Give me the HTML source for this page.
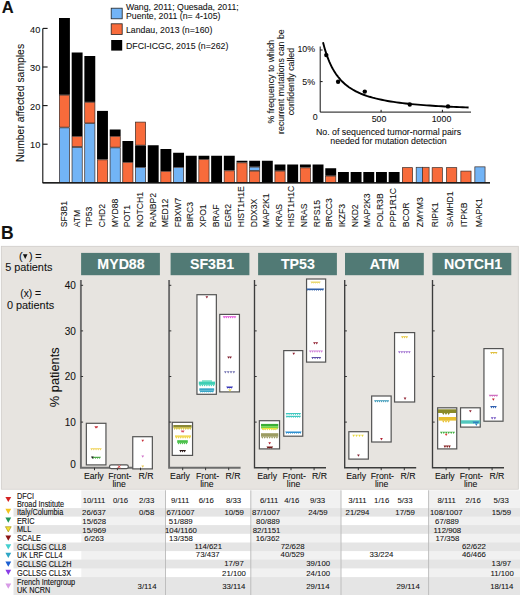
<!DOCTYPE html>
<html><head><meta charset="utf-8"><style>
html,body{margin:0;padding:0;background:#fff;}
svg{display:block;}
text{font-family:"Liberation Sans",sans-serif;}
</style></head><body>
<svg width="520" height="595" viewBox="0 0 520 595" font-family="Liberation Sans, sans-serif" fill="#111">
<text x="1.8" y="12.8" font-size="16.5" font-weight="bold" stroke="#111" stroke-width="0.08">A</text>
<rect x="111.2" y="8.2" width="11" height="10.6" fill="#72b4f6" stroke="#222" stroke-width="0.8"/>
<rect x="111.2" y="23.8" width="11" height="10.6" fill="#f86b3b" stroke="#222" stroke-width="0.8"/>
<rect x="111.2" y="40" width="11" height="10.6" fill="#000"/>
<g font-size="8.75">
<text x="126" y="9.6" stroke="#111" stroke-width="0.08">Wang, 2011; Quesada, 2011;</text>
<text x="126" y="19.2" stroke="#111" stroke-width="0.08">Puente, 2011 (n= 4-105)</text>
<text x="126" y="32.6" stroke="#111" stroke-width="0.08">Landau, 2013 (n=160)</text>
<text x="126" y="49" stroke="#111" stroke-width="0.08">DFCI-ICGC, 2015 (n=262)</text>
</g>
<g stroke="#111" stroke-width="1.1" fill="none">
<path d="M42.8 28.4 V182.8 H490"/>
<path d="M42.8 28.4 H47.6"/>
<path d="M42.8 67.0 H47.6"/>
<path d="M42.8 105.6 H47.6"/>
<path d="M42.8 144.2 H47.6"/>
</g>
<g font-size="9.2" text-anchor="end">
<text x="40.3" y="32.5" stroke="#111" stroke-width="0.08">40</text>
<text x="40.3" y="71.1" stroke="#111" stroke-width="0.08">30</text>
<text x="40.3" y="109.7" stroke="#111" stroke-width="0.08">20</text>
<text x="40.3" y="148.3" stroke="#111" stroke-width="0.08">10</text>
</g>
<text transform="translate(23.8 103) rotate(-90)" font-size="10.4" text-anchor="middle" stroke="#111" stroke-width="0.08">Number affected samples</text>
<rect x="59.0" y="18" width="10.9" height="76.80" fill="#000"/>
<rect x="59.35" y="95.14999999999999" width="10.200000000000001" height="32.00" fill="#f86b3b" stroke="#3a2a25" stroke-width="0.7"/>
<rect x="59.35" y="127.85" width="10.200000000000001" height="54.60" fill="#72b4f6" stroke="#3a2a25" stroke-width="0.7"/>
<text transform="translate(67.15 227.3) rotate(-90)" font-size="8.6" stroke="#111" stroke-width="0.08">SF3B1</text>
<rect x="71.68" y="52.5" width="10.9" height="83.70" fill="#000"/>
<rect x="72.03" y="136.54999999999998" width="10.200000000000001" height="10.10" fill="#f86b3b" stroke="#3a2a25" stroke-width="0.7"/>
<rect x="72.03" y="147.35" width="10.200000000000001" height="35.10" fill="#72b4f6" stroke="#3a2a25" stroke-width="0.7"/>
<text transform="translate(79.78 227.3) rotate(-90)" font-size="8.6" stroke="#111" stroke-width="0.08">ATM</text>
<rect x="84.36" y="56" width="10.9" height="45.90" fill="#000"/>
<rect x="84.71" y="102.25" width="10.200000000000001" height="20.70" fill="#f86b3b" stroke="#3a2a25" stroke-width="0.7"/>
<rect x="84.71" y="123.64999999999999" width="10.200000000000001" height="58.80" fill="#72b4f6" stroke="#3a2a25" stroke-width="0.7"/>
<text transform="translate(92.41 227.3) rotate(-90)" font-size="8.6" stroke="#111" stroke-width="0.08">TP53</text>
<rect x="97.03999999999999" y="110.9" width="10.9" height="48.60" fill="#000"/>
<rect x="97.38999999999999" y="159.85" width="10.200000000000001" height="22.60" fill="#f86b3b" stroke="#3a2a25" stroke-width="0.7"/>
<text transform="translate(105.04 227.3) rotate(-90)" font-size="8.6" stroke="#111" stroke-width="0.08">CHD2</text>
<rect x="109.72" y="129.5" width="10.9" height="6.50" fill="#000"/>
<rect x="110.07" y="136.35" width="10.200000000000001" height="10.80" fill="#f86b3b" stroke="#3a2a25" stroke-width="0.7"/>
<rect x="110.07" y="147.85" width="10.200000000000001" height="34.60" fill="#72b4f6" stroke="#3a2a25" stroke-width="0.7"/>
<text transform="translate(117.67 227.3) rotate(-90)" font-size="8.6" stroke="#111" stroke-width="0.08">MYD88</text>
<rect x="122.4" y="141" width="10.9" height="21.00" fill="#000"/>
<rect x="122.75" y="162.35" width="10.200000000000001" height="20.10" fill="#f86b3b" stroke="#3a2a25" stroke-width="0.7"/>
<text transform="translate(130.30 227.3) rotate(-90)" font-size="8.6" stroke="#111" stroke-width="0.08">POT1</text>
<rect x="135.42999999999998" y="122.1" width="10.200000000000001" height="23.05" fill="#f86b3b" stroke="#3a2a25" stroke-width="0.7"/>
<rect x="135.07999999999998" y="145.5" width="10.9" height="21.50" fill="#000"/>
<rect x="135.42999999999998" y="167.35" width="10.200000000000001" height="15.10" fill="#72b4f6" stroke="#3a2a25" stroke-width="0.7"/>
<text transform="translate(142.93 227.3) rotate(-90)" font-size="8.6" stroke="#111" stroke-width="0.08">NOTCH1</text>
<rect x="147.76" y="145.25" width="10.9" height="37.55" fill="#000"/>
<text transform="translate(155.56 227.3) rotate(-90)" font-size="8.6" stroke="#111" stroke-width="0.08">RANBP2</text>
<rect x="160.44" y="149" width="10.9" height="22.00" fill="#000"/>
<rect x="160.79" y="171.35" width="10.200000000000001" height="11.10" fill="#f86b3b" stroke="#3a2a25" stroke-width="0.7"/>
<text transform="translate(168.19 227.3) rotate(-90)" font-size="8.6" stroke="#111" stroke-width="0.08">MED12</text>
<rect x="173.12" y="152.75" width="10.9" height="14.25" fill="#000"/>
<rect x="173.47" y="167.35" width="10.200000000000001" height="15.10" fill="#72b4f6" stroke="#3a2a25" stroke-width="0.7"/>
<text transform="translate(180.82 227.3) rotate(-90)" font-size="8.6" stroke="#111" stroke-width="0.08">FBXW7</text>
<rect x="185.8" y="155.75" width="10.9" height="27.05" fill="#000"/>
<text transform="translate(193.45 227.3) rotate(-90)" font-size="8.6" stroke="#111" stroke-width="0.08">BIRC3</text>
<rect x="198.48" y="155.75" width="10.9" height="3.55" fill="#000"/>
<rect x="198.82999999999998" y="159.65" width="10.200000000000001" height="22.80" fill="#f86b3b" stroke="#3a2a25" stroke-width="0.7"/>
<text transform="translate(206.08 227.3) rotate(-90)" font-size="8.6" stroke="#111" stroke-width="0.08">XPO1</text>
<rect x="211.16" y="155.75" width="10.9" height="27.05" fill="#000"/>
<text transform="translate(218.71 227.3) rotate(-90)" font-size="8.6" stroke="#111" stroke-width="0.08">BRAF</text>
<rect x="223.84" y="155.75" width="10.9" height="14.75" fill="#000"/>
<rect x="224.19" y="170.85" width="10.200000000000001" height="11.60" fill="#f86b3b" stroke="#3a2a25" stroke-width="0.7"/>
<text transform="translate(231.34 227.3) rotate(-90)" font-size="8.6" stroke="#111" stroke-width="0.08">EGR2</text>
<rect x="236.51999999999998" y="160.75" width="10.9" height="1.75" fill="#000"/>
<rect x="236.86999999999998" y="162.85" width="10.200000000000001" height="19.60" fill="#f86b3b" stroke="#3a2a25" stroke-width="0.7"/>
<text transform="translate(243.97 227.3) rotate(-90)" font-size="8.6" stroke="#111" stroke-width="0.08">HIST1H1E</text>
<rect x="249.2" y="160.75" width="10.9" height="6.00" fill="#000"/>
<rect x="249.54999999999998" y="167.1" width="10.200000000000001" height="3.30" fill="#72b4f6" stroke="#3a2a25" stroke-width="0.7"/>
<rect x="249.54999999999998" y="171.1" width="10.200000000000001" height="11.35" fill="#f86b3b" stroke="#3a2a25" stroke-width="0.7"/>
<text transform="translate(256.60 227.3) rotate(-90)" font-size="8.6" stroke="#111" stroke-width="0.08">DDX3X</text>
<rect x="261.88" y="160.75" width="10.9" height="22.05" fill="#000"/>
<text transform="translate(269.23 227.3) rotate(-90)" font-size="8.6" stroke="#111" stroke-width="0.08">MAP2K1</text>
<rect x="274.56" y="164.5" width="10.9" height="6.25" fill="#000"/>
<rect x="274.91" y="171.1" width="10.200000000000001" height="11.35" fill="#f86b3b" stroke="#3a2a25" stroke-width="0.7"/>
<text transform="translate(281.86 227.3) rotate(-90)" font-size="8.6" stroke="#111" stroke-width="0.08">KRAS</text>
<rect x="287.24" y="164.5" width="10.9" height="18.30" fill="#000"/>
<text transform="translate(294.49 227.3) rotate(-90)" font-size="8.6" stroke="#111" stroke-width="0.08">HIST1H1C</text>
<rect x="299.91999999999996" y="164.5" width="10.9" height="3.00" fill="#000"/>
<rect x="300.27" y="167.85" width="10.200000000000001" height="14.60" fill="#f86b3b" stroke="#3a2a25" stroke-width="0.7"/>
<text transform="translate(307.12 227.3) rotate(-90)" font-size="8.6" stroke="#111" stroke-width="0.08">NRAS</text>
<rect x="312.6" y="164.5" width="10.9" height="18.30" fill="#000"/>
<text transform="translate(319.75 227.3) rotate(-90)" font-size="8.6" stroke="#111" stroke-width="0.08">RPS15</text>
<rect x="325.28" y="168.25" width="10.9" height="7.50" fill="#000"/>
<rect x="325.63" y="176.1" width="10.200000000000001" height="6.35" fill="#f86b3b" stroke="#3a2a25" stroke-width="0.7"/>
<text transform="translate(332.38 227.3) rotate(-90)" font-size="8.6" stroke="#111" stroke-width="0.08">BRCC3</text>
<rect x="337.96" y="172" width="10.9" height="10.80" fill="#000"/>
<text transform="translate(345.01 227.3) rotate(-90)" font-size="8.6" stroke="#111" stroke-width="0.08">IKZF3</text>
<rect x="350.64" y="172" width="10.9" height="10.80" fill="#000"/>
<text transform="translate(357.64 227.3) rotate(-90)" font-size="8.6" stroke="#111" stroke-width="0.08">NKD2</text>
<rect x="363.32" y="172" width="10.9" height="10.80" fill="#000"/>
<text transform="translate(370.27 227.3) rotate(-90)" font-size="8.6" stroke="#111" stroke-width="0.08">MAP2K3</text>
<rect x="376.0" y="172" width="10.9" height="10.80" fill="#000"/>
<text transform="translate(382.90 227.3) rotate(-90)" font-size="8.6" stroke="#111" stroke-width="0.08">POLR3B</text>
<rect x="388.68" y="172" width="10.9" height="10.80" fill="#000"/>
<text transform="translate(395.53 227.3) rotate(-90)" font-size="8.6" stroke="#111" stroke-width="0.08">PPP1R1C</text>
<rect x="402.35" y="167.65" width="10.200000000000001" height="14.80" fill="#f86b3b" stroke="#3a2a25" stroke-width="0.7"/>
<text transform="translate(409.00 227.3) rotate(-90)" font-size="8.6" stroke="#111" stroke-width="0.08">BCOR</text>
<rect x="416.2" y="167.3" width="6.3" height="15.50" fill="#72b4f6" stroke="#333" stroke-width="0.7"/>
<rect x="422.5" y="167.3" width="6.6" height="15.50" fill="#f86b3b" stroke="#333" stroke-width="0.7"/>
<text transform="translate(423.00 227.3) rotate(-90)" font-size="8.6" stroke="#111" stroke-width="0.08">ZMYM3</text>
<rect x="432.15000000000003" y="167.65" width="10.200000000000001" height="14.80" fill="#f86b3b" stroke="#3a2a25" stroke-width="0.7"/>
<text transform="translate(437.80 227.3) rotate(-90)" font-size="8.6" stroke="#111" stroke-width="0.08">RIPK1</text>
<rect x="446.55" y="167.65" width="10.200000000000001" height="14.80" fill="#f86b3b" stroke="#3a2a25" stroke-width="0.7"/>
<text transform="translate(452.80 227.3) rotate(-90)" font-size="8.6" stroke="#111" stroke-width="0.08">SAMHD1</text>
<rect x="460.85" y="171.1" width="10.200000000000001" height="11.35" fill="#f86b3b" stroke="#3a2a25" stroke-width="0.7"/>
<text transform="translate(467.15 227.3) rotate(-90)" font-size="8.6" stroke="#111" stroke-width="0.08">ITPKB</text>
<rect x="474.85" y="166.85" width="10.200000000000001" height="15.60" fill="#72b4f6" stroke="#3a2a25" stroke-width="0.7"/>
<text transform="translate(481.50 227.3) rotate(-90)" font-size="8.6" stroke="#111" stroke-width="0.08">MAPK1</text>
<path d="M42.8 182.8 H490" stroke="#111" stroke-width="1.2"/>
<g stroke="#111" stroke-width="1" fill="none">
<path d="M320.2 46.5 V112.1 H471"/>
<path d="M320.2 50 H322.6 M320.2 81.6 H322.6 M381.1 112.1 V109.8 M442.4 112.1 V109.8"/>
</g>
<polyline points="323.0,42.15 323.8,45.28 324.6,48.18 325.4,50.87 326.2,53.37 327.0,55.71 327.8,57.89 328.6,59.94 329.4,61.86 330.2,63.66 331.0,65.35 331.8,66.95 332.6,68.45 333.4,69.87 334.2,71.22 335.0,72.49 335.8,73.70 336.6,74.85 337.4,75.94 338.2,76.98 339.0,77.96 339.8,78.90 340.6,79.80 341.4,80.66 342.2,81.48 343.0,82.26 343.8,83.01 344.6,83.73 345.4,84.42 346.2,85.08 347.0,85.71 347.8,86.32 348.6,86.91 349.4,87.47 350.2,88.01 351.0,88.53 351.8,89.03 352.6,89.52 353.4,89.99 354.2,90.44 355.0,90.87 355.8,91.29 356.6,91.70 357.4,92.09 358.2,92.47 359.0,92.84 359.8,93.20 360.6,93.54 363.6,94.74 366.6,95.82 369.6,96.78 372.6,97.65 375.6,98.44 378.6,99.15 381.6,99.80 384.6,100.40 387.6,100.95 390.6,101.45 393.6,101.92 396.6,102.35 399.6,102.75 402.6,103.12 405.6,103.47 408.6,103.79 411.6,104.09 414.6,104.38 417.6,104.64 420.6,104.89 423.6,105.13 426.6,105.35 429.6,105.56 432.6,105.75 435.6,105.94 438.6,106.12 441.6,106.29 444.6,106.45 447.6,106.60 450.6,106.74 453.6,106.88 456.6,107.01 459.6,107.14 462.6,107.26 465.6,107.37 468.6,107.48" fill="none" stroke="#000" stroke-width="1.9"/>
<circle cx="326.3" cy="55.1" r="2.2" fill="#000"/>
<circle cx="338.1" cy="81.7" r="2.2" fill="#000"/>
<circle cx="364.8" cy="91.6" r="2.2" fill="#000"/>
<circle cx="409.8" cy="104.5" r="2.2" fill="#000"/>
<circle cx="448" cy="106.4" r="2.2" fill="#000"/>
<g font-size="8.8">
<text x="315" y="52.3" text-anchor="end" stroke="#111" stroke-width="0.08">10%</text>
<text x="315" y="84.6" text-anchor="end" stroke="#111" stroke-width="0.08">5%</text>
<text x="317.6" y="120" text-anchor="end" stroke="#111" stroke-width="0.08">0</text>
<text x="379" y="121.7" text-anchor="middle" stroke="#111" stroke-width="0.08">500</text>
<text x="441.5" y="121.7" text-anchor="middle" stroke="#111" stroke-width="0.08">1000</text>
<text x="388.5" y="134.5" text-anchor="middle" stroke="#111" stroke-width="0.08">No. of sequenced tumor-normal pairs</text>
<text x="388.5" y="144" text-anchor="middle" stroke="#111" stroke-width="0.08">needed for mutation detection</text>
<text transform="translate(274.2 81.6) rotate(-90)" text-anchor="middle" stroke="#111" stroke-width="0.08">% frequency to which</text>
<text transform="translate(284 81.6) rotate(-90)" text-anchor="middle" stroke="#111" stroke-width="0.08">recurrent mutations can be</text>
<text transform="translate(293.8 81.6) rotate(-90)" text-anchor="middle" stroke="#111" stroke-width="0.08">confidently called</text>
</g>
<text x="1.0" y="238.6" font-size="17.5" font-weight="bold" stroke="#111" stroke-width="0.08">B</text>
<rect x="1.3" y="246.3" width="517" height="243" fill="#e7e4e0" stroke="#cfccc8" stroke-width="0.8"/>
<g font-size="10.3" text-anchor="middle" fill="#111">
<text x="19.1" y="259.6" text-anchor="start" font-size="10.8" stroke="#111" stroke-width="0.08">(</text><path d="M22.9 254.2 H27.5 L25.2 259.1 Z" fill="#111"/><text x="28.9" y="259.6" text-anchor="start" font-size="10.8" stroke="#111" stroke-width="0.08">)</text><text x="35.2" y="259.6" text-anchor="start" font-size="10.8" stroke="#111" stroke-width="0.08">=</text>
<text x="28.8" y="271.3" font-size="10.9" stroke="#111" stroke-width="0.08">5 patients</text>
<text x="30.7" y="297" stroke="#111" stroke-width="0.08">(x) =</text>
<text x="30.5" y="309.4" font-size="10.9" stroke="#111" stroke-width="0.08">0 patients</text>
</g>
<text transform="translate(58.7 377.3) rotate(-90)" font-size="12.8" text-anchor="middle" stroke="#111" stroke-width="0.08">% patients</text>
<g font-size="10" text-anchor="end">
<text x="75.8" y="288.9" stroke="#111" stroke-width="0.08">40</text>
<text x="75.8" y="334.5" stroke="#111" stroke-width="0.08">30</text>
<text x="75.8" y="380.1" stroke="#111" stroke-width="0.08">20</text>
<text x="75.8" y="425.7" stroke="#111" stroke-width="0.08">10</text>
<text x="75.8" y="468" stroke="#111" stroke-width="0.08">0</text>
</g>
<rect x="81.1" y="252.9" width="78.8" height="22.3" fill="#517a75"/>
<text x="121.0" y="269.0" font-size="14.2" font-weight="bold" fill="#fff" text-anchor="middle" stroke="#fff" stroke-width="0.08">MYD88</text>
<path d="M80.9 280 V467.7 H152.4" stroke="#6c6c6c" stroke-width="1.9" fill="none"/>
<path d="M80.9 285.3 H83.10000000000001" stroke="#333" stroke-width="1"/>
<path d="M80.9 330.9 H83.10000000000001" stroke="#333" stroke-width="1"/>
<path d="M80.9 376.5 H83.10000000000001" stroke="#333" stroke-width="1"/>
<path d="M80.9 422.1 H83.10000000000001" stroke="#333" stroke-width="1"/>
<rect x="170.6" y="252.9" width="78.8" height="22.3" fill="#517a75"/>
<text x="212.0" y="269.0" font-size="14.2" font-weight="bold" fill="#fff" text-anchor="middle" stroke="#fff" stroke-width="0.08">SF3B1</text>
<path d="M169.1 280 V467.7 H240.6" stroke="#6c6c6c" stroke-width="1.9" fill="none"/>
<path d="M169.1 285.3 H171.29999999999998" stroke="#333" stroke-width="1"/>
<path d="M169.1 330.9 H171.29999999999998" stroke="#333" stroke-width="1"/>
<path d="M169.1 376.5 H171.29999999999998" stroke="#333" stroke-width="1"/>
<path d="M169.1 422.1 H171.29999999999998" stroke="#333" stroke-width="1"/>
<rect x="258.1" y="252.9" width="78.8" height="22.3" fill="#517a75"/>
<text x="297.9" y="269.0" font-size="14.2" font-weight="bold" fill="#fff" text-anchor="middle" stroke="#fff" stroke-width="0.08">TP53</text>
<path d="M254.5 280 V467.7 H326.0" stroke="#3c3c3c" stroke-width="1.35" fill="none"/>
<path d="M254.5 285.3 H256.7" stroke="#333" stroke-width="1"/>
<path d="M254.5 330.9 H256.7" stroke="#333" stroke-width="1"/>
<path d="M254.5 376.5 H256.7" stroke="#333" stroke-width="1"/>
<path d="M254.5 422.1 H256.7" stroke="#333" stroke-width="1"/>
<rect x="345.0" y="252.9" width="78.8" height="22.3" fill="#517a75"/>
<text x="384.6" y="269.0" font-size="14.2" font-weight="bold" fill="#fff" text-anchor="middle" stroke="#fff" stroke-width="0.08">ATM</text>
<path d="M344.7 280 V467.7 H416.2" stroke="#3c3c3c" stroke-width="1.35" fill="none"/>
<path d="M344.7 285.3 H346.9" stroke="#333" stroke-width="1"/>
<path d="M344.7 330.9 H346.9" stroke="#333" stroke-width="1"/>
<path d="M344.7 376.5 H346.9" stroke="#333" stroke-width="1"/>
<path d="M344.7 422.1 H346.9" stroke="#333" stroke-width="1"/>
<rect x="432.5" y="252.9" width="78.8" height="22.3" fill="#517a75"/>
<text x="473.1" y="269.0" font-size="14.2" font-weight="bold" fill="#fff" text-anchor="middle" stroke="#fff" stroke-width="0.08">NOTCH1</text>
<path d="M432.5 280 V467.7 H504.0" stroke="#3c3c3c" stroke-width="1.35" fill="none"/>
<path d="M432.5 285.3 H434.7" stroke="#333" stroke-width="1"/>
<path d="M432.5 330.9 H434.7" stroke="#333" stroke-width="1"/>
<path d="M432.5 376.5 H434.7" stroke="#333" stroke-width="1"/>
<path d="M432.5 422.1 H434.7" stroke="#333" stroke-width="1"/>
<rect x="86.35" y="423.30" width="19.60" height="41.60" rx="0" fill="#fff" stroke="#535353" stroke-width="1.2"/>
<path d="M94.5 467.7 V470.2" stroke="#333" stroke-width="1"/>
<rect x="109.45" y="464.90" width="18.90" height="3.70" rx="1.8" fill="#fff" stroke="#535353" stroke-width="1.2"/>
<path d="M117.4 467.7 V470.2" stroke="#333" stroke-width="1"/>
<rect x="132.75" y="436.70" width="19.60" height="32.20" rx="0" fill="#fff" stroke="#535353" stroke-width="1.2"/>
<path d="M140.5 467.7 V470.2" stroke="#333" stroke-width="1"/>
<g font-size="8.7" text-anchor="middle" fill="#111">
<text x="93.8" y="479.0" stroke="#111" stroke-width="0.08">Early</text>
<text x="119.9" y="479.0" stroke="#111" stroke-width="0.08">Front-</text>
<text x="119.2" y="486.8" stroke="#111" stroke-width="0.08">line</text>
<text x="146.0" y="479.0" stroke="#111" stroke-width="0.08">R/R</text>
</g>
<rect x="172.25" y="422.30" width="20.30" height="33.10" rx="0" fill="#fff" stroke="#535353" stroke-width="1.2"/>
<path d="M182.7 467.7 V470.2" stroke="#333" stroke-width="1"/>
<rect x="196.95" y="294.70" width="19.40" height="99.60" rx="0" fill="#fff" stroke="#535353" stroke-width="1.2"/>
<path d="M205.6 467.7 V470.2" stroke="#333" stroke-width="1"/>
<rect x="219.75" y="314.40" width="19.70" height="77.50" rx="0" fill="#fff" stroke="#535353" stroke-width="1.2"/>
<path d="M228.7 467.7 V470.2" stroke="#333" stroke-width="1"/>
<g font-size="8.7" text-anchor="middle" fill="#111">
<text x="180.0" y="479.0" stroke="#111" stroke-width="0.08">Early</text>
<text x="207.6" y="479.0" stroke="#111" stroke-width="0.08">Front-</text>
<text x="206.9" y="486.8" stroke="#111" stroke-width="0.08">line</text>
<text x="233.0" y="479.0" stroke="#111" stroke-width="0.08">R/R</text>
</g>
<rect x="259.35" y="420.70" width="20.20" height="28.20" rx="0" fill="#fff" stroke="#535353" stroke-width="1.2"/>
<path d="M268.1 467.7 V470.2" stroke="#333" stroke-width="1"/>
<rect x="283.75" y="350.60" width="19.00" height="85.60" rx="0" fill="#fff" stroke="#535353" stroke-width="1.2"/>
<path d="M291.0 467.7 V470.2" stroke="#333" stroke-width="1"/>
<rect x="306.55" y="279.00" width="19.10" height="83.10" rx="0" fill="#fff" stroke="#535353" stroke-width="1.2"/>
<path d="M314.1 467.7 V470.2" stroke="#333" stroke-width="1"/>
<g font-size="8.7" text-anchor="middle" fill="#111">
<text x="267.1" y="479.0" stroke="#111" stroke-width="0.08">Early</text>
<text x="294.2" y="479.0" stroke="#111" stroke-width="0.08">Front-</text>
<text x="293.6" y="486.8" stroke="#111" stroke-width="0.08">line</text>
<text x="319.5" y="479.0" stroke="#111" stroke-width="0.08">R/R</text>
</g>
<rect x="348.85" y="431.70" width="19.50" height="27.40" rx="0" fill="#fff" stroke="#535353" stroke-width="1.2"/>
<path d="M358.3 467.7 V470.2" stroke="#333" stroke-width="1"/>
<rect x="371.65" y="396.00" width="19.50" height="46.00" rx="0" fill="#fff" stroke="#535353" stroke-width="1.2"/>
<path d="M381.2 467.7 V470.2" stroke="#333" stroke-width="1"/>
<rect x="394.55" y="332.60" width="20.10" height="69.40" rx="0" fill="#fff" stroke="#535353" stroke-width="1.2"/>
<path d="M404.3 467.7 V470.2" stroke="#333" stroke-width="1"/>
<g font-size="8.7" text-anchor="middle" fill="#111">
<text x="356.2" y="479.0" stroke="#111" stroke-width="0.08">Early</text>
<text x="382.4" y="479.0" stroke="#111" stroke-width="0.08">Front-</text>
<text x="381.7" y="486.8" stroke="#111" stroke-width="0.08">line</text>
<text x="408.0" y="479.0" stroke="#111" stroke-width="0.08">R/R</text>
</g>
<rect x="437.65" y="407.80" width="19.10" height="41.10" rx="0" fill="#fff" stroke="#535353" stroke-width="1.2"/>
<path d="M446.1 467.7 V470.2" stroke="#333" stroke-width="1"/>
<rect x="460.55" y="407.80" width="19.70" height="19.30" rx="0" fill="#fff" stroke="#535353" stroke-width="1.2"/>
<path d="M469.0 467.7 V470.2" stroke="#333" stroke-width="1"/>
<rect x="483.95" y="348.60" width="19.10" height="72.60" rx="0" fill="#fff" stroke="#535353" stroke-width="1.2"/>
<path d="M492.1 467.7 V470.2" stroke="#333" stroke-width="1"/>
<g font-size="8.7" text-anchor="middle" fill="#111">
<text x="444.8" y="479.0" stroke="#111" stroke-width="0.08">Early</text>
<text x="471.4" y="479.0" stroke="#111" stroke-width="0.08">Front-</text>
<text x="470.7" y="486.8" stroke="#111" stroke-width="0.08">line</text>
<text x="496.9" y="479.0" stroke="#111" stroke-width="0.08">R/R</text>
</g>
<rect x="0" y="489.8" width="520" height="105.2" fill="#fff"/>
<rect x="81.3" y="490.3" width="84.2" height="104.7" fill="#f1f1f1"/>
<rect x="250.8" y="490.3" width="90.2" height="104.7" fill="#f1f1f1"/>
<rect x="428.6" y="490.3" width="91.4" height="104.7" fill="#f1f1f1"/>
<rect x="13.5" y="508.1" width="506.5" height="8.5" fill="#e5e5e5"/>
<rect x="13.5" y="525.1" width="506.5" height="8.7" fill="#e5e5e5"/>
<rect x="13.5" y="542.5" width="506.5" height="8.6" fill="#e5e5e5"/>
<rect x="13.5" y="559.6" width="506.5" height="8.8" fill="#e5e5e5"/>
<rect x="13.5" y="577.1" width="506.5" height="17.9" fill="#e5e5e5"/>
<path d="M165.5 490.3 V595" stroke="#b9b9b9" stroke-width="0.9"/>
<path d="M250.8 490.3 V595" stroke="#b9b9b9" stroke-width="0.9"/>
<path d="M341 490.3 V595" stroke="#b9b9b9" stroke-width="0.9"/>
<path d="M428.6 490.3 V595" stroke="#b9b9b9" stroke-width="0.9"/>
<path d="M5.4 496.9 H11.2 L8.3 502.1 Z" fill="#d42222"/>
<text x="17.00" y="498.70" font-size="8.6" textLength="17.05" lengthAdjust="spacingAndGlyphs" fill="#111" stroke="#111" stroke-width="0.12">DFCI</text>
<text x="17.00" y="506.70" font-size="8.6" textLength="47.13" lengthAdjust="spacingAndGlyphs" fill="#111" stroke="#111" stroke-width="0.12">Broad Institute</text>
<path d="M5.4 508.8 H11.2 L8.3 514.0 Z" fill="#f2c21c"/>
<text x="17.00" y="514.90" font-size="8.6" textLength="46.31" lengthAdjust="spacingAndGlyphs" fill="#111" stroke="#111" stroke-width="0.12">Italy/Columbia</text>
<path d="M5.4 517.6 H11.2 L8.3 522.8 Z" fill="#23965a"/>
<text x="17.00" y="523.60" font-size="8.6" textLength="17.47" lengthAdjust="spacingAndGlyphs" fill="#111" stroke="#111" stroke-width="0.12">ERIC</text>
<path d="M5.4 526.7 H11.2 L8.3 531.9 Z" fill="#f4e030" stroke="#9a8a10" stroke-width="0.6"/>
<text x="17.00" y="532.40" font-size="8.6" textLength="14.22" lengthAdjust="spacingAndGlyphs" fill="#111" stroke="#111" stroke-width="0.12">MLL</text>
<path d="M5.4 535.6 H11.2 L8.3 540.8 Z" fill="#8a1414"/>
<text x="17.00" y="541.30" font-size="8.6" textLength="23.97" lengthAdjust="spacingAndGlyphs" fill="#111" stroke="#111" stroke-width="0.12">SCALE</text>
<path d="M5.4 544.2 H11.2 L8.3 549.4 Z" fill="#44cfcf"/>
<text x="17.00" y="549.90" font-size="8.6" textLength="49.16" lengthAdjust="spacingAndGlyphs" fill="#111" stroke="#111" stroke-width="0.12">GCLLSG CLL8</text>
<path d="M5.4 552.8 H11.2 L8.3 558.0 Z" fill="#2fa6c6"/>
<text x="17.00" y="558.40" font-size="8.6" textLength="45.50" lengthAdjust="spacingAndGlyphs" fill="#111" stroke="#111" stroke-width="0.12">UK LRF CLL4</text>
<path d="M5.4 561.5 H11.2 L8.3 566.7 Z" fill="#1c5fd2"/>
<text x="17.00" y="567.30" font-size="8.6" textLength="54.44" lengthAdjust="spacingAndGlyphs" fill="#111" stroke="#111" stroke-width="0.12">GCLLSG CLL2H</text>
<path d="M5.4 569.8 H11.2 L8.3 575.0 Z" fill="#8a3ee6"/>
<text x="17.00" y="575.90" font-size="8.6" textLength="54.04" lengthAdjust="spacingAndGlyphs" fill="#111" stroke="#111" stroke-width="0.12">GCLLSG CLL3X</text>
<path d="M5.4 583.6 H11.2 L8.3 588.8 Z" fill="#d79be6"/>
<text x="17.00" y="585.25" font-size="8.6" textLength="58.10" lengthAdjust="spacingAndGlyphs" fill="#111" stroke="#111" stroke-width="0.12">French Intergroup</text>
<text x="17.00" y="593.05" font-size="8.6" textLength="33.30" lengthAdjust="spacingAndGlyphs" fill="#111" stroke="#111" stroke-width="0.12">UK NCRN</text>
<text x="82.70" y="503.35" font-size="7.8" textLength="22.70" lengthAdjust="spacingAndGlyphs" fill="#111" stroke="#111" stroke-width="0.06">10/111</text>
<text x="112.99" y="503.35" font-size="7.8" textLength="15.18" lengthAdjust="spacingAndGlyphs" fill="#111" stroke="#111" stroke-width="0.06">0/16</text>
<text x="139.09" y="503.35" font-size="7.8" textLength="15.18" lengthAdjust="spacingAndGlyphs" fill="#111" stroke="#111" stroke-width="0.06">2/33</text>
<text x="170.89" y="503.35" font-size="7.8" textLength="18.36" lengthAdjust="spacingAndGlyphs" fill="#111" stroke="#111" stroke-width="0.06">9/111</text>
<text x="198.70" y="503.35" font-size="7.8" textLength="15.18" lengthAdjust="spacingAndGlyphs" fill="#111" stroke="#111" stroke-width="0.06">6/16</text>
<text x="226.00" y="503.35" font-size="7.8" textLength="15.18" lengthAdjust="spacingAndGlyphs" fill="#111" stroke="#111" stroke-width="0.06">8/33</text>
<text x="260.03" y="503.35" font-size="7.8" textLength="18.36" lengthAdjust="spacingAndGlyphs" fill="#111" stroke="#111" stroke-width="0.06">6/111</text>
<text x="284.29" y="503.35" font-size="7.8" textLength="15.18" lengthAdjust="spacingAndGlyphs" fill="#111" stroke="#111" stroke-width="0.06">4/16</text>
<text x="310.00" y="503.35" font-size="7.8" textLength="15.18" lengthAdjust="spacingAndGlyphs" fill="#111" stroke="#111" stroke-width="0.06">9/33</text>
<text x="348.33" y="503.35" font-size="7.8" textLength="18.36" lengthAdjust="spacingAndGlyphs" fill="#111" stroke="#111" stroke-width="0.06">3/111</text>
<text x="374.09" y="503.35" font-size="7.8" textLength="15.18" lengthAdjust="spacingAndGlyphs" fill="#111" stroke="#111" stroke-width="0.06">1/16</text>
<text x="397.39" y="503.35" font-size="7.8" textLength="15.18" lengthAdjust="spacingAndGlyphs" fill="#111" stroke="#111" stroke-width="0.06">5/33</text>
<text x="437.44" y="503.35" font-size="7.8" textLength="18.36" lengthAdjust="spacingAndGlyphs" fill="#111" stroke="#111" stroke-width="0.06">8/111</text>
<text x="465.59" y="503.35" font-size="7.8" textLength="15.18" lengthAdjust="spacingAndGlyphs" fill="#111" stroke="#111" stroke-width="0.06">2/16</text>
<text x="493.59" y="503.35" font-size="7.8" textLength="15.18" lengthAdjust="spacingAndGlyphs" fill="#111" stroke="#111" stroke-width="0.06">5/33</text>
<text x="82.12" y="514.85" font-size="7.8" textLength="23.85" lengthAdjust="spacingAndGlyphs" fill="#111" stroke="#111" stroke-width="0.06">26/637</text>
<text x="139.09" y="514.85" font-size="7.8" textLength="15.18" lengthAdjust="spacingAndGlyphs" fill="#111" stroke="#111" stroke-width="0.06">0/58</text>
<text x="166.42" y="514.85" font-size="7.8" textLength="28.19" lengthAdjust="spacingAndGlyphs" fill="#111" stroke="#111" stroke-width="0.06">67/1007</text>
<text x="224.45" y="514.85" font-size="7.8" textLength="19.52" lengthAdjust="spacingAndGlyphs" fill="#111" stroke="#111" stroke-width="0.06">10/59</text>
<text x="251.92" y="514.85" font-size="7.8" textLength="28.19" lengthAdjust="spacingAndGlyphs" fill="#111" stroke="#111" stroke-width="0.06">87/1007</text>
<text x="308.15" y="514.85" font-size="7.8" textLength="19.52" lengthAdjust="spacingAndGlyphs" fill="#111" stroke="#111" stroke-width="0.06">24/59</text>
<text x="345.57" y="514.85" font-size="7.8" textLength="23.85" lengthAdjust="spacingAndGlyphs" fill="#111" stroke="#111" stroke-width="0.06">21/294</text>
<text x="395.35" y="514.85" font-size="7.8" textLength="19.52" lengthAdjust="spacingAndGlyphs" fill="#111" stroke="#111" stroke-width="0.06">17/59</text>
<text x="430.04" y="514.85" font-size="7.8" textLength="32.53" lengthAdjust="spacingAndGlyphs" fill="#111" stroke="#111" stroke-width="0.06">108/1007</text>
<text x="491.65" y="514.85" font-size="7.8" textLength="19.52" lengthAdjust="spacingAndGlyphs" fill="#111" stroke="#111" stroke-width="0.06">15/59</text>
<text x="82.37" y="524.25" font-size="7.8" textLength="23.85" lengthAdjust="spacingAndGlyphs" fill="#111" stroke="#111" stroke-width="0.06">15/628</text>
<text x="168.87" y="524.25" font-size="7.8" textLength="23.85" lengthAdjust="spacingAndGlyphs" fill="#111" stroke="#111" stroke-width="0.06">51/889</text>
<text x="256.07" y="524.25" font-size="7.8" textLength="23.85" lengthAdjust="spacingAndGlyphs" fill="#111" stroke="#111" stroke-width="0.06">80/889</text>
<text x="435.07" y="524.25" font-size="7.8" textLength="23.85" lengthAdjust="spacingAndGlyphs" fill="#111" stroke="#111" stroke-width="0.06">67/889</text>
<text x="82.37" y="532.85" font-size="7.8" textLength="23.85" lengthAdjust="spacingAndGlyphs" fill="#111" stroke="#111" stroke-width="0.06">15/969</text>
<text x="165.01" y="532.85" font-size="7.8" textLength="31.95" lengthAdjust="spacingAndGlyphs" fill="#111" stroke="#111" stroke-width="0.06">104/1160</text>
<text x="252.79" y="532.85" font-size="7.8" textLength="27.61" lengthAdjust="spacingAndGlyphs" fill="#111" stroke="#111" stroke-width="0.06">82/1151</text>
<text x="433.59" y="532.85" font-size="7.8" textLength="27.61" lengthAdjust="spacingAndGlyphs" fill="#111" stroke="#111" stroke-width="0.06">112/908</text>
<text x="84.30" y="540.85" font-size="7.8" textLength="19.52" lengthAdjust="spacingAndGlyphs" fill="#111" stroke="#111" stroke-width="0.06">6/263</text>
<text x="168.97" y="540.85" font-size="7.8" textLength="23.85" lengthAdjust="spacingAndGlyphs" fill="#111" stroke="#111" stroke-width="0.06">13/358</text>
<text x="255.77" y="540.85" font-size="7.8" textLength="23.85" lengthAdjust="spacingAndGlyphs" fill="#111" stroke="#111" stroke-width="0.06">16/362</text>
<text x="435.47" y="540.85" font-size="7.8" textLength="23.85" lengthAdjust="spacingAndGlyphs" fill="#111" stroke="#111" stroke-width="0.06">17/358</text>
<text x="194.39" y="549.45" font-size="7.8" textLength="27.61" lengthAdjust="spacingAndGlyphs" fill="#111" stroke="#111" stroke-width="0.06">114/621</text>
<text x="280.77" y="549.45" font-size="7.8" textLength="23.85" lengthAdjust="spacingAndGlyphs" fill="#111" stroke="#111" stroke-width="0.06">72/628</text>
<text x="461.97" y="549.45" font-size="7.8" textLength="23.85" lengthAdjust="spacingAndGlyphs" fill="#111" stroke="#111" stroke-width="0.06">62/622</text>
<text x="195.87" y="557.35" font-size="7.8" textLength="23.85" lengthAdjust="spacingAndGlyphs" fill="#111" stroke="#111" stroke-width="0.06">73/437</text>
<text x="280.57" y="557.35" font-size="7.8" textLength="23.85" lengthAdjust="spacingAndGlyphs" fill="#111" stroke="#111" stroke-width="0.06">40/529</text>
<text x="369.47" y="557.35" font-size="7.8" textLength="23.85" lengthAdjust="spacingAndGlyphs" fill="#111" stroke="#111" stroke-width="0.06">33/224</text>
<text x="461.97" y="557.35" font-size="7.8" textLength="23.85" lengthAdjust="spacingAndGlyphs" fill="#111" stroke="#111" stroke-width="0.06">46/466</text>
<text x="224.25" y="566.25" font-size="7.8" textLength="19.52" lengthAdjust="spacingAndGlyphs" fill="#111" stroke="#111" stroke-width="0.06">17/97</text>
<text x="306.27" y="566.25" font-size="7.8" textLength="23.85" lengthAdjust="spacingAndGlyphs" fill="#111" stroke="#111" stroke-width="0.06">39/100</text>
<text x="491.55" y="566.25" font-size="7.8" textLength="19.52" lengthAdjust="spacingAndGlyphs" fill="#111" stroke="#111" stroke-width="0.06">13/97</text>
<text x="222.07" y="576.25" font-size="7.8" textLength="23.85" lengthAdjust="spacingAndGlyphs" fill="#111" stroke="#111" stroke-width="0.06">21/100</text>
<text x="306.27" y="576.25" font-size="7.8" textLength="23.85" lengthAdjust="spacingAndGlyphs" fill="#111" stroke="#111" stroke-width="0.06">24/100</text>
<text x="490.48" y="576.25" font-size="7.8" textLength="23.28" lengthAdjust="spacingAndGlyphs" fill="#111" stroke="#111" stroke-width="0.06">11/100</text>
<text x="137.62" y="589.45" font-size="7.8" textLength="18.94" lengthAdjust="spacingAndGlyphs" fill="#111" stroke="#111" stroke-width="0.06">3/114</text>
<text x="222.18" y="589.45" font-size="7.8" textLength="23.28" lengthAdjust="spacingAndGlyphs" fill="#111" stroke="#111" stroke-width="0.06">33/114</text>
<text x="306.28" y="589.45" font-size="7.8" textLength="23.28" lengthAdjust="spacingAndGlyphs" fill="#111" stroke="#111" stroke-width="0.06">29/114</text>
<text x="396.48" y="589.45" font-size="7.8" textLength="23.28" lengthAdjust="spacingAndGlyphs" fill="#111" stroke="#111" stroke-width="0.06">29/114</text>
<text x="490.18" y="589.45" font-size="7.8" textLength="23.28" lengthAdjust="spacingAndGlyphs" fill="#111" stroke="#111" stroke-width="0.06">18/114</text>
<path d="M94.40 426.20h2.70l-1.35 2.30zM95.50 426.20h2.70l-1.35 2.30z" fill="#c8303a" fill-opacity="1.0"/>
<path d="M90.30 448.30h2.70l-1.35 2.30zM92.50 448.30h2.70l-1.35 2.30zM94.70 448.30h2.70l-1.35 2.30zM96.90 448.30h2.70l-1.35 2.30zM99.10 448.30h2.70l-1.35 2.30z" fill="#efd257" fill-opacity="1.0"/>
<path d="M92.00 456.80h2.70l-1.35 2.30zM94.10 456.80h2.70l-1.35 2.30zM96.20 456.80h2.70l-1.35 2.30zM98.30 456.80h2.70l-1.35 2.30z" fill="#4fa84a" fill-opacity="1.0"/>
<path d="M91.00 456.60h2.70l-1.35 2.30z" fill="#222" fill-opacity="1.0"/>
<path d="M117.7 465.4 L120.7 468.2 M120.7 465.4 L117.7 468.2" stroke="#d04040" stroke-width="0.9"/>
<path d="M141.40 439.80h2.70l-1.35 2.30z" fill="#c8303a" fill-opacity="1.0"/>
<path d="M141.40 455.50h2.70l-1.35 2.30z" fill="#d070c8" fill-opacity="1.0"/>
<path d="M141.40 465.50h2.70l-1.35 2.30z" fill="#e8c850" fill-opacity="1.0"/>
<rect x="173.3" y="425.0" width="18.30" height="2.40" fill="#8a8838" fill-opacity="1.0"/>
<path d="M173.30 427.20h2.70l-1.35 2.30zM175.53 427.20h2.70l-1.35 2.30zM177.76 427.20h2.70l-1.35 2.30zM179.99 427.20h2.70l-1.35 2.30zM182.21 427.20h2.70l-1.35 2.30zM184.44 427.20h2.70l-1.35 2.30zM186.67 427.20h2.70l-1.35 2.30zM188.90 427.20h2.70l-1.35 2.30z" fill="#b8b040" fill-opacity="1.0"/>
<path d="M173.30 427.60h2.70l-1.35 2.30zM175.53 427.60h2.70l-1.35 2.30zM177.76 427.60h2.70l-1.35 2.30zM179.99 427.60h2.70l-1.35 2.30zM182.21 427.60h2.70l-1.35 2.30zM184.44 427.60h2.70l-1.35 2.30zM186.67 427.60h2.70l-1.35 2.30zM188.90 427.60h2.70l-1.35 2.30z" fill="#d8c848" fill-opacity="1.0"/>
<path d="M180.70 430.40h2.70l-1.35 2.30zM181.90 430.40h2.70l-1.35 2.30z" fill="#d84860" fill-opacity="1.0"/>
<rect x="175.0" y="435.4" width="16.00" height="1.40" fill="#f0d64a" fill-opacity="1.0"/>
<path d="M175.00 436.40h2.70l-1.35 2.30zM177.22 436.40h2.70l-1.35 2.30zM179.43 436.40h2.70l-1.35 2.30zM181.65 436.40h2.70l-1.35 2.30zM183.87 436.40h2.70l-1.35 2.30zM186.08 436.40h2.70l-1.35 2.30zM188.30 436.40h2.70l-1.35 2.30z" fill="#efd447" fill-opacity="1.0"/>
<rect x="177.2" y="440.2" width="10.60" height="2.40" fill="#48c048" fill-opacity="1.0"/>
<path d="M177.20 442.20h2.70l-1.35 2.30zM179.17 442.20h2.70l-1.35 2.30zM181.15 442.20h2.70l-1.35 2.30zM183.12 442.20h2.70l-1.35 2.30zM185.10 442.20h2.70l-1.35 2.30z" fill="#48c048" fill-opacity="1.0"/>
<path d="M179.30 450.10h2.70l-1.35 2.30zM181.30 450.10h2.70l-1.35 2.30zM183.30 450.10h2.70l-1.35 2.30z" fill="#2a1818" fill-opacity="1.0"/>
<path d="M205.50 296.20h2.70l-1.35 2.30z" fill="#902030" fill-opacity="1.0"/>
<rect x="202.0" y="380.2" width="10.00" height="1.60" fill="#5ad8b8" fill-opacity="0.8"/>
<rect x="198.8" y="381.6" width="16.20" height="2.80" fill="#3fcfb5" fill-opacity="1.0"/>
<path d="M198.80 384.20h2.70l-1.35 2.30zM201.05 384.20h2.70l-1.35 2.30zM203.30 384.20h2.70l-1.35 2.30zM205.55 384.20h2.70l-1.35 2.30zM207.80 384.20h2.70l-1.35 2.30zM210.05 384.20h2.70l-1.35 2.30zM212.30 384.20h2.70l-1.35 2.30z" fill="#3fcfb5" fill-opacity="1.0"/>
<rect x="199.3" y="388.3" width="14.90" height="2.30" fill="#3aa6c6" fill-opacity="1.0"/>
<path d="M199.30 390.40h2.70l-1.35 2.30zM201.33 390.40h2.70l-1.35 2.30zM203.37 390.40h2.70l-1.35 2.30zM205.40 390.40h2.70l-1.35 2.30zM207.43 390.40h2.70l-1.35 2.30zM209.47 390.40h2.70l-1.35 2.30zM211.50 390.40h2.70l-1.35 2.30z" fill="#3aa6c6" fill-opacity="1.0"/>
<path d="M222.80 316.30h2.70l-1.35 2.30zM224.96 316.30h2.70l-1.35 2.30zM227.12 316.30h2.70l-1.35 2.30zM229.28 316.30h2.70l-1.35 2.30zM231.44 316.30h2.70l-1.35 2.30zM233.60 316.30h2.70l-1.35 2.30z" fill="#e050d8" fill-opacity="1.0"/>
<path d="M227.20 356.50h2.70l-1.35 2.30zM229.20 356.50h2.70l-1.35 2.30z" fill="#802030" fill-opacity="1.0"/>
<path d="M224.00 371.20h2.70l-1.35 2.30zM226.83 371.20h2.70l-1.35 2.30zM229.67 371.20h2.70l-1.35 2.30zM232.50 371.20h2.70l-1.35 2.30z" fill="#7070b0" fill-opacity="1.0"/>
<path d="M226.20 386.40h2.70l-1.35 2.30zM228.25 386.40h2.70l-1.35 2.30zM230.30 386.40h2.70l-1.35 2.30z" fill="#3838b8" fill-opacity="1.0"/>
<path d="M228.20 389.30h2.70l-1.35 2.30zM228.90 389.30h2.70l-1.35 2.30z" fill="#e8d860" fill-opacity="1.0"/>
<rect x="261.0" y="423.9" width="17.30" height="2.30" fill="#3aae36" fill-opacity="1.0"/>
<rect x="261.0" y="426.2" width="17.30" height="1.80" fill="#6ad446" fill-opacity="1.0"/>
<path d="M261.00 427.80h2.70l-1.35 2.30zM263.43 427.80h2.70l-1.35 2.30zM265.87 427.80h2.70l-1.35 2.30zM268.30 427.80h2.70l-1.35 2.30zM270.73 427.80h2.70l-1.35 2.30zM273.17 427.80h2.70l-1.35 2.30zM275.60 427.80h2.70l-1.35 2.30z" fill="#9ad840" fill-opacity="1.0"/>
<path d="M262.00 428.10h2.70l-1.35 2.30zM264.05 428.10h2.70l-1.35 2.30zM266.10 428.10h2.70l-1.35 2.30zM268.15 428.10h2.70l-1.35 2.30zM270.20 428.10h2.70l-1.35 2.30zM272.25 428.10h2.70l-1.35 2.30zM274.30 428.10h2.70l-1.35 2.30z" fill="#f0e040" fill-opacity="1.0"/>
<rect x="261.0" y="433.2" width="17.30" height="3.40" fill="#9c9c62" fill-opacity="1.0"/>
<path d="M261.00 436.40h2.70l-1.35 2.30zM263.43 436.40h2.70l-1.35 2.30zM265.87 436.40h2.70l-1.35 2.30zM268.30 436.40h2.70l-1.35 2.30zM270.73 436.40h2.70l-1.35 2.30zM273.17 436.40h2.70l-1.35 2.30zM275.60 436.40h2.70l-1.35 2.30z" fill="#9c9c62" fill-opacity="1.0"/>
<path d="M268.30 442.30h2.70l-1.35 2.30z" fill="#b02030" fill-opacity="1.0"/>
<path d="M266.50 446.40h2.70l-1.35 2.30zM268.45 446.40h2.70l-1.35 2.30zM270.40 446.40h2.70l-1.35 2.30z" fill="#701818" fill-opacity="1.0"/>
<path d="M292.40 352.80h2.70l-1.35 2.30z" fill="#902030" fill-opacity="1.0"/>
<path d="M285.60 413.00h2.70l-1.35 2.30zM287.73 413.00h2.70l-1.35 2.30zM289.87 413.00h2.70l-1.35 2.30zM292.00 413.00h2.70l-1.35 2.30zM294.13 413.00h2.70l-1.35 2.30zM296.27 413.00h2.70l-1.35 2.30zM298.40 413.00h2.70l-1.35 2.30z" fill="#40c8c0" fill-opacity="1.0"/>
<path d="M285.60 415.80h2.70l-1.35 2.30zM287.73 415.80h2.70l-1.35 2.30zM289.87 415.80h2.70l-1.35 2.30zM292.00 415.80h2.70l-1.35 2.30zM294.13 415.80h2.70l-1.35 2.30zM296.27 415.80h2.70l-1.35 2.30zM298.40 415.80h2.70l-1.35 2.30z" fill="#40c8c0" fill-opacity="1.0"/>
<path d="M285.20 431.60h2.70l-1.35 2.30zM287.16 431.60h2.70l-1.35 2.30zM289.11 431.60h2.70l-1.35 2.30zM291.07 431.60h2.70l-1.35 2.30zM293.03 431.60h2.70l-1.35 2.30zM294.99 431.60h2.70l-1.35 2.30zM296.94 431.60h2.70l-1.35 2.30zM298.90 431.60h2.70l-1.35 2.30z" fill="#3090d0" fill-opacity="1.0"/>
<path d="M310.40 281.40h2.70l-1.35 2.30zM312.32 281.40h2.70l-1.35 2.30zM314.25 281.40h2.70l-1.35 2.30zM316.18 281.40h2.70l-1.35 2.30zM318.10 281.40h2.70l-1.35 2.30z" fill="#e8d870" fill-opacity="1.0"/>
<path d="M306.50 288.60h2.70l-1.35 2.30zM308.64 288.60h2.70l-1.35 2.30zM310.79 288.60h2.70l-1.35 2.30zM312.93 288.60h2.70l-1.35 2.30zM315.07 288.60h2.70l-1.35 2.30zM317.21 288.60h2.70l-1.35 2.30zM319.36 288.60h2.70l-1.35 2.30zM321.50 288.60h2.70l-1.35 2.30z" fill="#2f5fa8" fill-opacity="1.0"/>
<path d="M313.10 342.30h2.70l-1.35 2.30zM315.40 342.30h2.70l-1.35 2.30z" fill="#902030" fill-opacity="1.0"/>
<path d="M309.00 350.50h2.70l-1.35 2.30zM311.26 350.50h2.70l-1.35 2.30zM313.52 350.50h2.70l-1.35 2.30zM315.78 350.50h2.70l-1.35 2.30zM318.04 350.50h2.70l-1.35 2.30zM320.30 350.50h2.70l-1.35 2.30z" fill="#d080d8" fill-opacity="1.0"/>
<path d="M311.30 357.00h2.70l-1.35 2.30zM313.70 357.00h2.70l-1.35 2.30zM316.10 357.00h2.70l-1.35 2.30zM318.50 357.00h2.70l-1.35 2.30z" fill="#6050a8" fill-opacity="1.0"/>
<path d="M352.30 434.80h2.70l-1.35 2.30zM355.23 434.80h2.70l-1.35 2.30zM358.17 434.80h2.70l-1.35 2.30zM361.10 434.80h2.70l-1.35 2.30z" fill="#e8d840" fill-opacity="1.0"/>
<path d="M357.10 454.50h2.70l-1.35 2.30z" fill="#802030" fill-opacity="1.0"/>
<path d="M374.00 400.20h2.70l-1.35 2.30zM376.08 400.20h2.70l-1.35 2.30zM378.17 400.20h2.70l-1.35 2.30zM380.25 400.20h2.70l-1.35 2.30zM382.33 400.20h2.70l-1.35 2.30zM384.42 400.20h2.70l-1.35 2.30zM386.50 400.20h2.70l-1.35 2.30z" fill="#3a98b8" fill-opacity="1.0"/>
<path d="M380.10 438.10h2.70l-1.35 2.30z" fill="#b02030" fill-opacity="1.0"/>
<path d="M401.00 336.20h2.70l-1.35 2.30zM403.20 336.20h2.70l-1.35 2.30zM405.40 336.20h2.70l-1.35 2.30z" fill="#e8c840" fill-opacity="1.0"/>
<path d="M398.00 351.20h2.70l-1.35 2.30zM400.50 351.20h2.70l-1.35 2.30zM403.00 351.20h2.70l-1.35 2.30zM405.50 351.20h2.70l-1.35 2.30zM408.00 351.20h2.70l-1.35 2.30z" fill="#a070d0" fill-opacity="1.0"/>
<path d="M403.70 397.60h2.70l-1.35 2.30z" fill="#902030" fill-opacity="1.0"/>
<rect x="438.0" y="409.3" width="18.20" height="3.70" fill="#8a8a28" fill-opacity="1.0"/>
<path d="M442.00 412.80h2.70l-1.35 2.30zM444.65 412.80h2.70l-1.35 2.30zM447.30 412.80h2.70l-1.35 2.30z" fill="#8a8a28" fill-opacity="1.0"/>
<rect x="438.6" y="417.0" width="17.60" height="3.60" fill="#e8c030" fill-opacity="1.0"/>
<path d="M442.00 420.40h2.70l-1.35 2.30zM444.65 420.40h2.70l-1.35 2.30zM447.30 420.40h2.70l-1.35 2.30z" fill="#e8c030" fill-opacity="1.0"/>
<path d="M440.00 431.80h2.70l-1.35 2.30zM442.46 431.80h2.70l-1.35 2.30zM444.92 431.80h2.70l-1.35 2.30zM447.38 431.80h2.70l-1.35 2.30zM449.84 431.80h2.70l-1.35 2.30zM452.30 431.80h2.70l-1.35 2.30z" fill="#40b040" fill-opacity="1.0"/>
<path d="M444.80 433.80h2.70l-1.35 2.30z" fill="#e03030" fill-opacity="1.0"/>
<path d="M443.60 445.60h2.70l-1.35 2.30zM445.85 445.60h2.70l-1.35 2.30zM448.10 445.60h2.70l-1.35 2.30z" fill="#801818" fill-opacity="1.0"/>
<path d="M469.00 410.20h2.70l-1.35 2.30z" fill="#902030" fill-opacity="1.0"/>
<rect x="460.8" y="420.3" width="19.40" height="3.40" fill="#52c8be" fill-opacity="1.0"/>
<path d="M472.50 421.40h2.70l-1.35 2.30zM474.50 421.40h2.70l-1.35 2.30zM476.50 421.40h2.70l-1.35 2.30z" fill="#2f80c0" fill-opacity="1.0"/>
<path d="M475.00 423.60h2.70l-1.35 2.30z" fill="#2f80c0" fill-opacity="1.0"/>
<path d="M490.10 352.00h2.70l-1.35 2.30zM492.45 352.00h2.70l-1.35 2.30zM494.80 352.00h2.70l-1.35 2.30z" fill="#e0c040" fill-opacity="1.0"/>
<path d="M488.70 394.80h2.70l-1.35 2.30zM490.97 394.80h2.70l-1.35 2.30zM493.23 394.80h2.70l-1.35 2.30zM495.50 394.80h2.70l-1.35 2.30z" fill="#d070c0" fill-opacity="1.0"/>
<path d="M492.00 398.40h2.70l-1.35 2.30z" fill="#c02030" fill-opacity="1.0"/>
<path d="M490.10 406.10h2.70l-1.35 2.30zM492.10 406.10h2.70l-1.35 2.30zM494.10 406.10h2.70l-1.35 2.30z" fill="#3060b0" fill-opacity="1.0"/>
<path d="M490.80 417.30h2.70l-1.35 2.30zM493.50 417.30h2.70l-1.35 2.30z" fill="#7050c0" fill-opacity="1.0"/>
</svg>
</body></html>
